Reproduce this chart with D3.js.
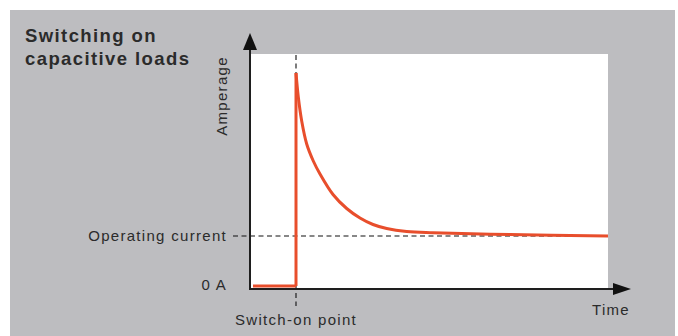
<!DOCTYPE html>
<html><head><meta charset="utf-8">
<script src="https://cdn.jsdelivr.net/npm/d3@7"></script>
<style>body{margin:0;background:#fff}svg{display:block}text{font-family:"Liberation Sans",Arial,sans-serif}</style>
</head><body>
<script>
// Data (time in arbitrary units, amperage relative to operating current)
const offTime = [3, 46];
const offAmp = [0, 0];
const onTime = [46, 46, 48.3, 51.7, 56.7, 63.3, 70, 83, 96.7, 110, 123, 136.7, 156.7, 183, 260, 358];
const onAmp = [0, 4.26, 3.78, 3.30, 2.84, 2.50, 2.24, 1.83, 1.55, 1.36, 1.23, 1.15, 1.09, 1.065, 1.03, 1.0];
const switchOnTime = 46;
const operatingCurrent = 1.0;
const labels = {title: ["Switching on", "capacitive loads"], y: "Amperage", x: "Time",
  op: "Operating current", zero: "0 A", sw: "Switch-on point"};

const W = 678, H = 336;
const svg = d3.select("body").append("svg").attr("width", W).attr("height", H);
svg.append("rect").attr("x", 10).attr("y", 10).attr("width", 665).attr("height", 326).attr("fill", "#bdbdc0");

const x = d3.scaleLinear().domain([0, 358]).range([250, 608]);
const y = d3.scaleLinear().domain([-0.06, 4.64]).range([289, 54]);

svg.append("rect").attr("x", x(0)).attr("y", y(4.64)).attr("width", x(358) - x(0)).attr("height", y(-0.06) - y(4.64)).attr("fill", "#fff");

const txt = "#2b2b2b";
// Title
svg.selectAll(".title").data(labels.title).join("text")
  .attr("x", 25).attr("y", (d, i) => 41.5 + i * 23.5)
  .attr("font-size", 18.5).attr("font-weight", "bold").attr("letter-spacing", 1.4)
  .attr("fill", txt).text(d => d);

// dashed lines
const dash = "5,3.5";
svg.append("line").attr("x1", 233).attr("x2", x(358)).attr("y1", y(operatingCurrent)).attr("y2", y(operatingCurrent))
  .attr("stroke", "#111").attr("stroke-width", 1.1).attr("stroke-dasharray", dash);
svg.append("line").attr("x1", x(switchOnTime)).attr("x2", x(switchOnTime)).attr("y1", y(4.64) + 1).attr("y2", 306)
  .attr("stroke", "#111").attr("stroke-width", 1.1).attr("stroke-dasharray", dash);

// axes
const axisCol = "#1e1e1e";
svg.append("line").attr("x1", x(0)).attr("x2", x(0)).attr("y1", 48).attr("y2", 290).attr("stroke", axisCol).attr("stroke-width", 2);
svg.append("path").attr("d", `M${x(0)},33 L${x(0)-7},50 L${x(0)+7},50 Z`).attr("fill", "#111");
svg.append("line").attr("x1", x(0) - 1).attr("x2", 616).attr("y1", y(-0.06)).attr("y2", y(-0.06)).attr("stroke", axisCol).attr("stroke-width", 2);
svg.append("path").attr("d", `M631,${y(-0.06)} L613,${y(-0.06)-6} L613,${y(-0.06)+6} Z`).attr("fill", "#111");

// curve
const red = "#e84e2c";
const straight = d3.line().x(d => x(d[0])).y(d => y(d[1]));
svg.append("path").datum(d3.zip(offTime, offAmp)).attr("d", straight)
  .attr("fill", "none").attr("stroke", red).attr("stroke-width", 3);
svg.append("path").datum(d3.zip(onTime.slice(0, 2), onAmp.slice(0, 2))).attr("d", straight)
  .attr("fill", "none").attr("stroke", red).attr("stroke-width", 3);
svg.append("path").datum(d3.zip(onTime.slice(1), onAmp.slice(1)))
  .attr("d", d3.line().x(d => x(d[0])).y(d => y(d[1])).curve(d3.curveCatmullRom.alpha(0.5)))
  .attr("fill", "none").attr("stroke", red).attr("stroke-width", 3).attr("stroke-linejoin", "round");

// labels
const ls = 1.3;
svg.append("text").attr("x", 227).attr("y", 241).attr("text-anchor", "end").attr("font-size", 15).attr("letter-spacing", ls).attr("fill", txt).text(labels.op);
svg.append("text").attr("x", 227).attr("y", 290).attr("text-anchor", "end").attr("font-size", 15).attr("letter-spacing", ls).attr("fill", txt).text(labels.zero);
svg.append("text").attr("x", x(switchOnTime)).attr("y", 325).attr("text-anchor", "middle").attr("font-size", 15).attr("letter-spacing", ls).attr("fill", txt).text(labels.sw);
svg.append("text").attr("x", 592).attr("y", 315).attr("font-size", 15).attr("letter-spacing", ls).attr("fill", txt).text(labels.x);
svg.append("text").attr("transform", "translate(227,96) rotate(-90)").attr("text-anchor", "middle").attr("font-size", 15).attr("letter-spacing", ls).attr("fill", txt).text(labels.y);
</script>
</body></html>
